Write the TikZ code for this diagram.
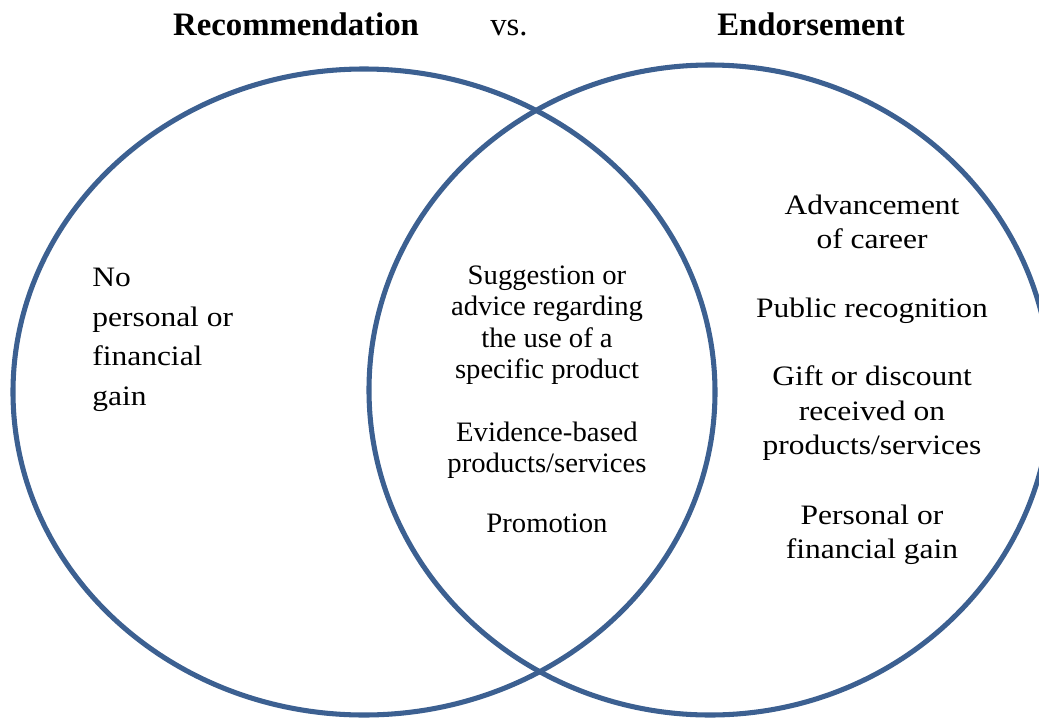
\documentclass[tikz,border=0pt]{standalone}
\usepackage{fontspec}
\setmainfont{Liberation Serif}
\newfontfamily\sidefont[FakeStretch = 1.12]{Liberation Serif}
\newfontfamily\midfont[FakeStretch = 1.02]{Liberation Serif}
\definecolor{vennblue}{RGB}{60, 96, 145}
\tikzstyle{venn} = [draw = vennblue, line width = 3.6pt]
\tikzstyle{heading} = [anchor = base, font = \fontsize{23.3}{28}\selectfont]
\tikzstyle{sidetext} = [inner sep = 0pt, align = center, font = \sidefont\fontsize{20}{24.5}\selectfont]
\tikzstyle{lefttext} = [inner sep = 0pt, anchor = west, align = left, font = \sidefont\fontsize{20}{28.1}\selectfont]
\tikzstyle{midtext} = [inner sep = 0pt, align = center, font = \midfont\fontsize{20}{22.4}\selectfont]

\begin{document}
\begin{tikzpicture}[x = 0.025cm, y = -0.025cm]
        \useasboundingbox (0, 0) rectangle (1039, 717);
        \clip (0, 0) rectangle (1039, 717);

        \draw [venn] (364, 392) ellipse [x radius = 351, y radius = 323];
        \draw [venn] (710, 390) ellipse [x radius = 341, y radius = 325];

        \node (Rec) at (296, 35) [heading] {\bfseries Recommendation};
        \node (Vs) at (509, 35) [heading] {vs.};
        \node (End) at (811, 35) [heading] {\bfseries Endorsement};

        \node (NoGain) at (92, 340) [lefttext] {No\\ personal or\\ financial\\ gain};

        \node (Advice) at (547, 325) [midtext] {Suggestion or\\ advice regarding\\ the use of a\\ specific product};
        \node (Evidence) at (547, 450) [midtext] {Evidence-based\\ products/services};
        \node (Promo) at (547, 523) [midtext] {Promotion};

        \node (Career) at (872, 222) [sidetext] {Advancement\\ of career};
        \node (Public) at (872, 311) [sidetext] {Public recognition};
        \node (Gift) at (872, 413.5) [sidetext] {Gift or discount\\ received on\\ products/services};
        \node (Gain) at (872, 534.5) [sidetext] {Personal or\\ financial gain};
    \end{tikzpicture}
\end{document}
